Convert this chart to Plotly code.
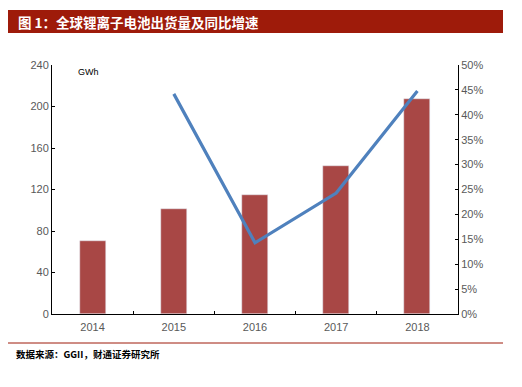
import plotly.graph_objects as go

years = ["2014", "2015", "2016", "2017", "2018"]
shipments = [70, 101, 115, 143, 207]
growth = [None, 44.2, 14.3, 24.3, 44.8]
left_ticks = [0, 40, 80, 120, 160, 200, 240]
right_ticks = [0, 5, 10, 15, 20, 25, 30, 35, 40, 45, 50]

fig = go.Figure()
fig.add_trace(go.Bar(x=years, y=shipments, marker_color="#A84745", width=0.32, yaxis="y"))
fig.add_trace(go.Scatter(x=years, y=growth, mode="lines", line=dict(color="#4F81BD", width=3.2), yaxis="y2", connectgaps=False))

font = "Liberation Sans, Arial, sans-serif"
fig.update_layout(
    width=522, height=387,
    margin=dict(l=52, r=64, t=65, b=73),
    paper_bgcolor="white", plot_bgcolor="white",
    showlegend=False,
    font=dict(family=font, size=11, color="#595959"),
    xaxis=dict(type="category", showline=True, linecolor="black", linewidth=1,
               ticks="inside", ticklen=3, tickcolor="black", tickson="boundaries",
               showgrid=False, tickfont=dict(size=11, color="#595959"), ticklabelstandoff=3),
    yaxis=dict(range=[0, 240], tickvals=left_ticks, showline=True, linecolor="black", linewidth=1,
               ticks="inside", ticklen=3, tickcolor="black", showgrid=False, zeroline=False,
               tickfont=dict(size=11, color="#595959")),
    yaxis2=dict(range=[0, 50], tickvals=right_ticks, ticktext=[f"{v}%" for v in right_ticks],
                overlaying="y", side="right", showline=True, linecolor="black", linewidth=1,
                ticks="inside", ticklen=3, tickcolor="black", showgrid=False, zeroline=False,
                tickfont=dict(size=11, color="#595959")),
    bargap=0,
)

fig.add_shape(type="rect", xref="paper", yref="paper", x0=(8-52)/406, x1=(503-52)/406,
              y0=(387-73-33)/249, y1=(387-73-10)/249, fillcolor="#9E1B0A", line_width=0, layer="below")
fig.add_annotation(text="<b>图 1：全球锂离子电池出货量及同比增速</b>", xref="paper", yref="paper",
                   x=(16-52)/406, y=(387-73-21.5)/249, xanchor="left", yanchor="middle", showarrow=False,
                   font=dict(family="Noto Sans CJK SC", size=13.5, color="white"))
fig.add_shape(type="line", xref="paper", yref="paper", x0=(8-52)/406, x1=(503-52)/406,
              y0=(387-73-343)/249, y1=(387-73-343)/249, line=dict(color="#9E1B0A", width=1))
fig.add_annotation(text="<b>数据来源：GGII，财通证券研究所</b>", xref="paper", yref="paper",
                   x=(14-52)/406, y=(387-73-354)/249, xanchor="left", yanchor="middle", showarrow=False,
                   font=dict(family="Noto Sans CJK SC", size=9.5, color="black"))
fig.add_annotation(text="GWh", xref="paper", yref="paper",
                   x=(88-52)/406, y=(387-73-72)/249, xanchor="center", yanchor="middle", showarrow=False,
                   font=dict(family=font, size=9, color="black"))

fig.write_html("out.html", config={"displayModeBar": False},
               post_script="document.body.style.margin='0';")
